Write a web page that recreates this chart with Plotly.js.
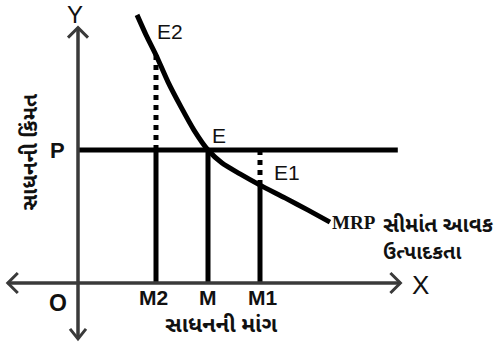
<!DOCTYPE html>
<html>
<head>
<meta charset="utf-8">
<script src="https://cdn.plot.ly/plotly-3.0.1.min.js"></script>
<style>html,body{margin:0;padding:0;background:#fff;}#chart{width:498px;height:348px;}</style>
</head>
<body>
<div id="chart"></div>
<script>
// Input quantity (x) and input price (y) in diagram units
const mrpX = [2.27, 2.62, 3.0, 3.46, 3.96, 4.46, 5.0, 5.54, 6.23, 7.0, 7.96, 8.85, 9.69];
const mrpY = [10.08, 9.32, 8.57, 7.56, 6.62, 5.75, 5.0, 4.51, 4.10, 3.68, 3.20, 2.74, 2.29];
const priceP = 5.0;
const qtyLabels = ["M2", "M", "M1"];
const qtyValues = [3, 5, 7];
const pointLabels = ["E2", "E", "E1"];
const pointPrices = [8.57, 5.0, 3.68];
const priceLineEnd = 12.3;
const xAxisSpan = [-2.7, 12.4];
const yAxisSpan = [-2.1, 9.6];
const axisTitleX = "સાધનની માંગ";
const axisTitleY = "સાધનની કિંમત";
const curveLabel = "MRP";
const curveLabelGu = ["સીમાંત આવક", "ઉત્પાદકતા"];

const pxX = 26, pxY = 26.6;
const ink = "#000";
const traces = [];

// MRP curve
traces.push({x: mrpX, y: mrpY, mode: "lines", line: {color: ink, width: 5, shape: "spline", smoothing: 0.6}, hoverinfo: "skip"});
// Price line P
traces.push({x: [0, priceLineEnd], y: [priceP, priceP], mode: "lines", line: {color: ink, width: 5}, hoverinfo: "skip"});
// vertical lines
qtyValues.forEach((q, i) => {
  const yp = pointPrices[i];
  const solidTop = Math.min(yp, priceP);
  traces.push({x: [q, q], y: [0, solidTop], mode: "lines", line: {color: ink, width: 5}, hoverinfo: "skip"});
  if (Math.abs(yp - priceP) > 0.01) {
    traces.push({x: [q, q], y: [solidTop, Math.max(yp, priceP)], mode: "lines", line: {color: ink, width: 5, dash: "5px,5px"}, hoverinfo: "skip"});
  }
});

const axisCol = "#3a3a3a";
const ax = 10 / pxX, ay = 10 / pxY;
const shapes = [
  {type: "line", x0: 0, x1: 0, y0: yAxisSpan[0], y1: yAxisSpan[1], line: {color: axisCol, width: 3.5}},
  {type: "line", x0: xAxisSpan[0], x1: xAxisSpan[1], y0: 0, y1: 0, line: {color: axisCol, width: 3.5}},
  {type: "path", path: `M ${-ax} ${yAxisSpan[1] - ay} L 0 ${yAxisSpan[1]} L ${ax} ${yAxisSpan[1] - ay}`, line: {color: axisCol, width: 3}},
  {type: "path", path: `M ${-ax*0.8} ${yAxisSpan[0] + ay} L 0 ${yAxisSpan[0]} L ${ax*0.8} ${yAxisSpan[0] + ay}`, line: {color: axisCol, width: 3}},
  {type: "path", path: `M ${xAxisSpan[0] + ax} ${ay} L ${xAxisSpan[0]} 0 L ${xAxisSpan[0] + ax} ${-ay}`, line: {color: axisCol, width: 3}},
  {type: "path", path: `M ${xAxisSpan[1] - ax} ${ay} L ${xAxisSpan[1]} 0 L ${xAxisSpan[1] - ax} ${-ay}`, line: {color: axisCol, width: 3}}
];

const sans = "Liberation Sans, Arial, sans-serif";
const guj = "Noto Sans Gujarati, Noto Sans, sans-serif";
const txtCol = "#111";
const ann = [];
function t(text, x, y, size, opts, fam) {
  ann.push(Object.assign({text: text, x: x, y: y, xref: "x", yref: "y", showarrow: false, borderpad: 0,
    font: {family: fam || sans, size: size, color: txtCol}}, opts || {}));
}
t("Y", -0.12, 10.08, 24);
t("X", 13.19, -0.08, 26);
t("<b>O</b>", -0.77, -0.75, 23);
t("<b>P</b>", -0.77, priceP, 22);
t(pointLabels[0], 3.54, 9.44, 21);
t(pointLabels[1], 5.42, 5.56, 21);
t(pointLabels[2], 8.04, 4.17, 21);
qtyLabels.forEach((l, i) => t("<b>" + l + "</b>", qtyValues[i] + (i - 1) * 0.1, -0.53, 21));
t("<b>" + curveLabel + "</b>", 9.72, 2.29, 19, {xanchor: "left"}, "Liberation Serif, serif");
t("<b>" + curveLabelGu[0] + "</b>", 11.7, 2.12, 21, {xanchor: "left"}, guj);
t("<b>" + curveLabelGu[1] + "</b>", 11.7, 1.1, 20, {xanchor: "left"}, guj);
t("<b>" + axisTitleX + "</b>", 5.5, -1.62, 22, {}, guj);
t("<b>" + axisTitleY + "</b>", -1.77, 4.94, 21, {textangle: -90}, guj);

const layout = {
  width: 498, height: 348,
  margin: {l: 0, r: 0, t: 0, b: 0},
  paper_bgcolor: "#fff", plot_bgcolor: "#fff",
  showlegend: false,
  xaxis: {visible: false, range: [-78 / pxX, (498 - 78) / pxX], fixedrange: true},
  yaxis: {visible: false, range: [(283 - 348) / pxY, 283 / pxY], fixedrange: true},
  shapes: shapes,
  annotations: ann
};
Plotly.newPlot("chart", traces, layout, {displayModeBar: false, staticPlot: true});
</script>
</body>
</html>
